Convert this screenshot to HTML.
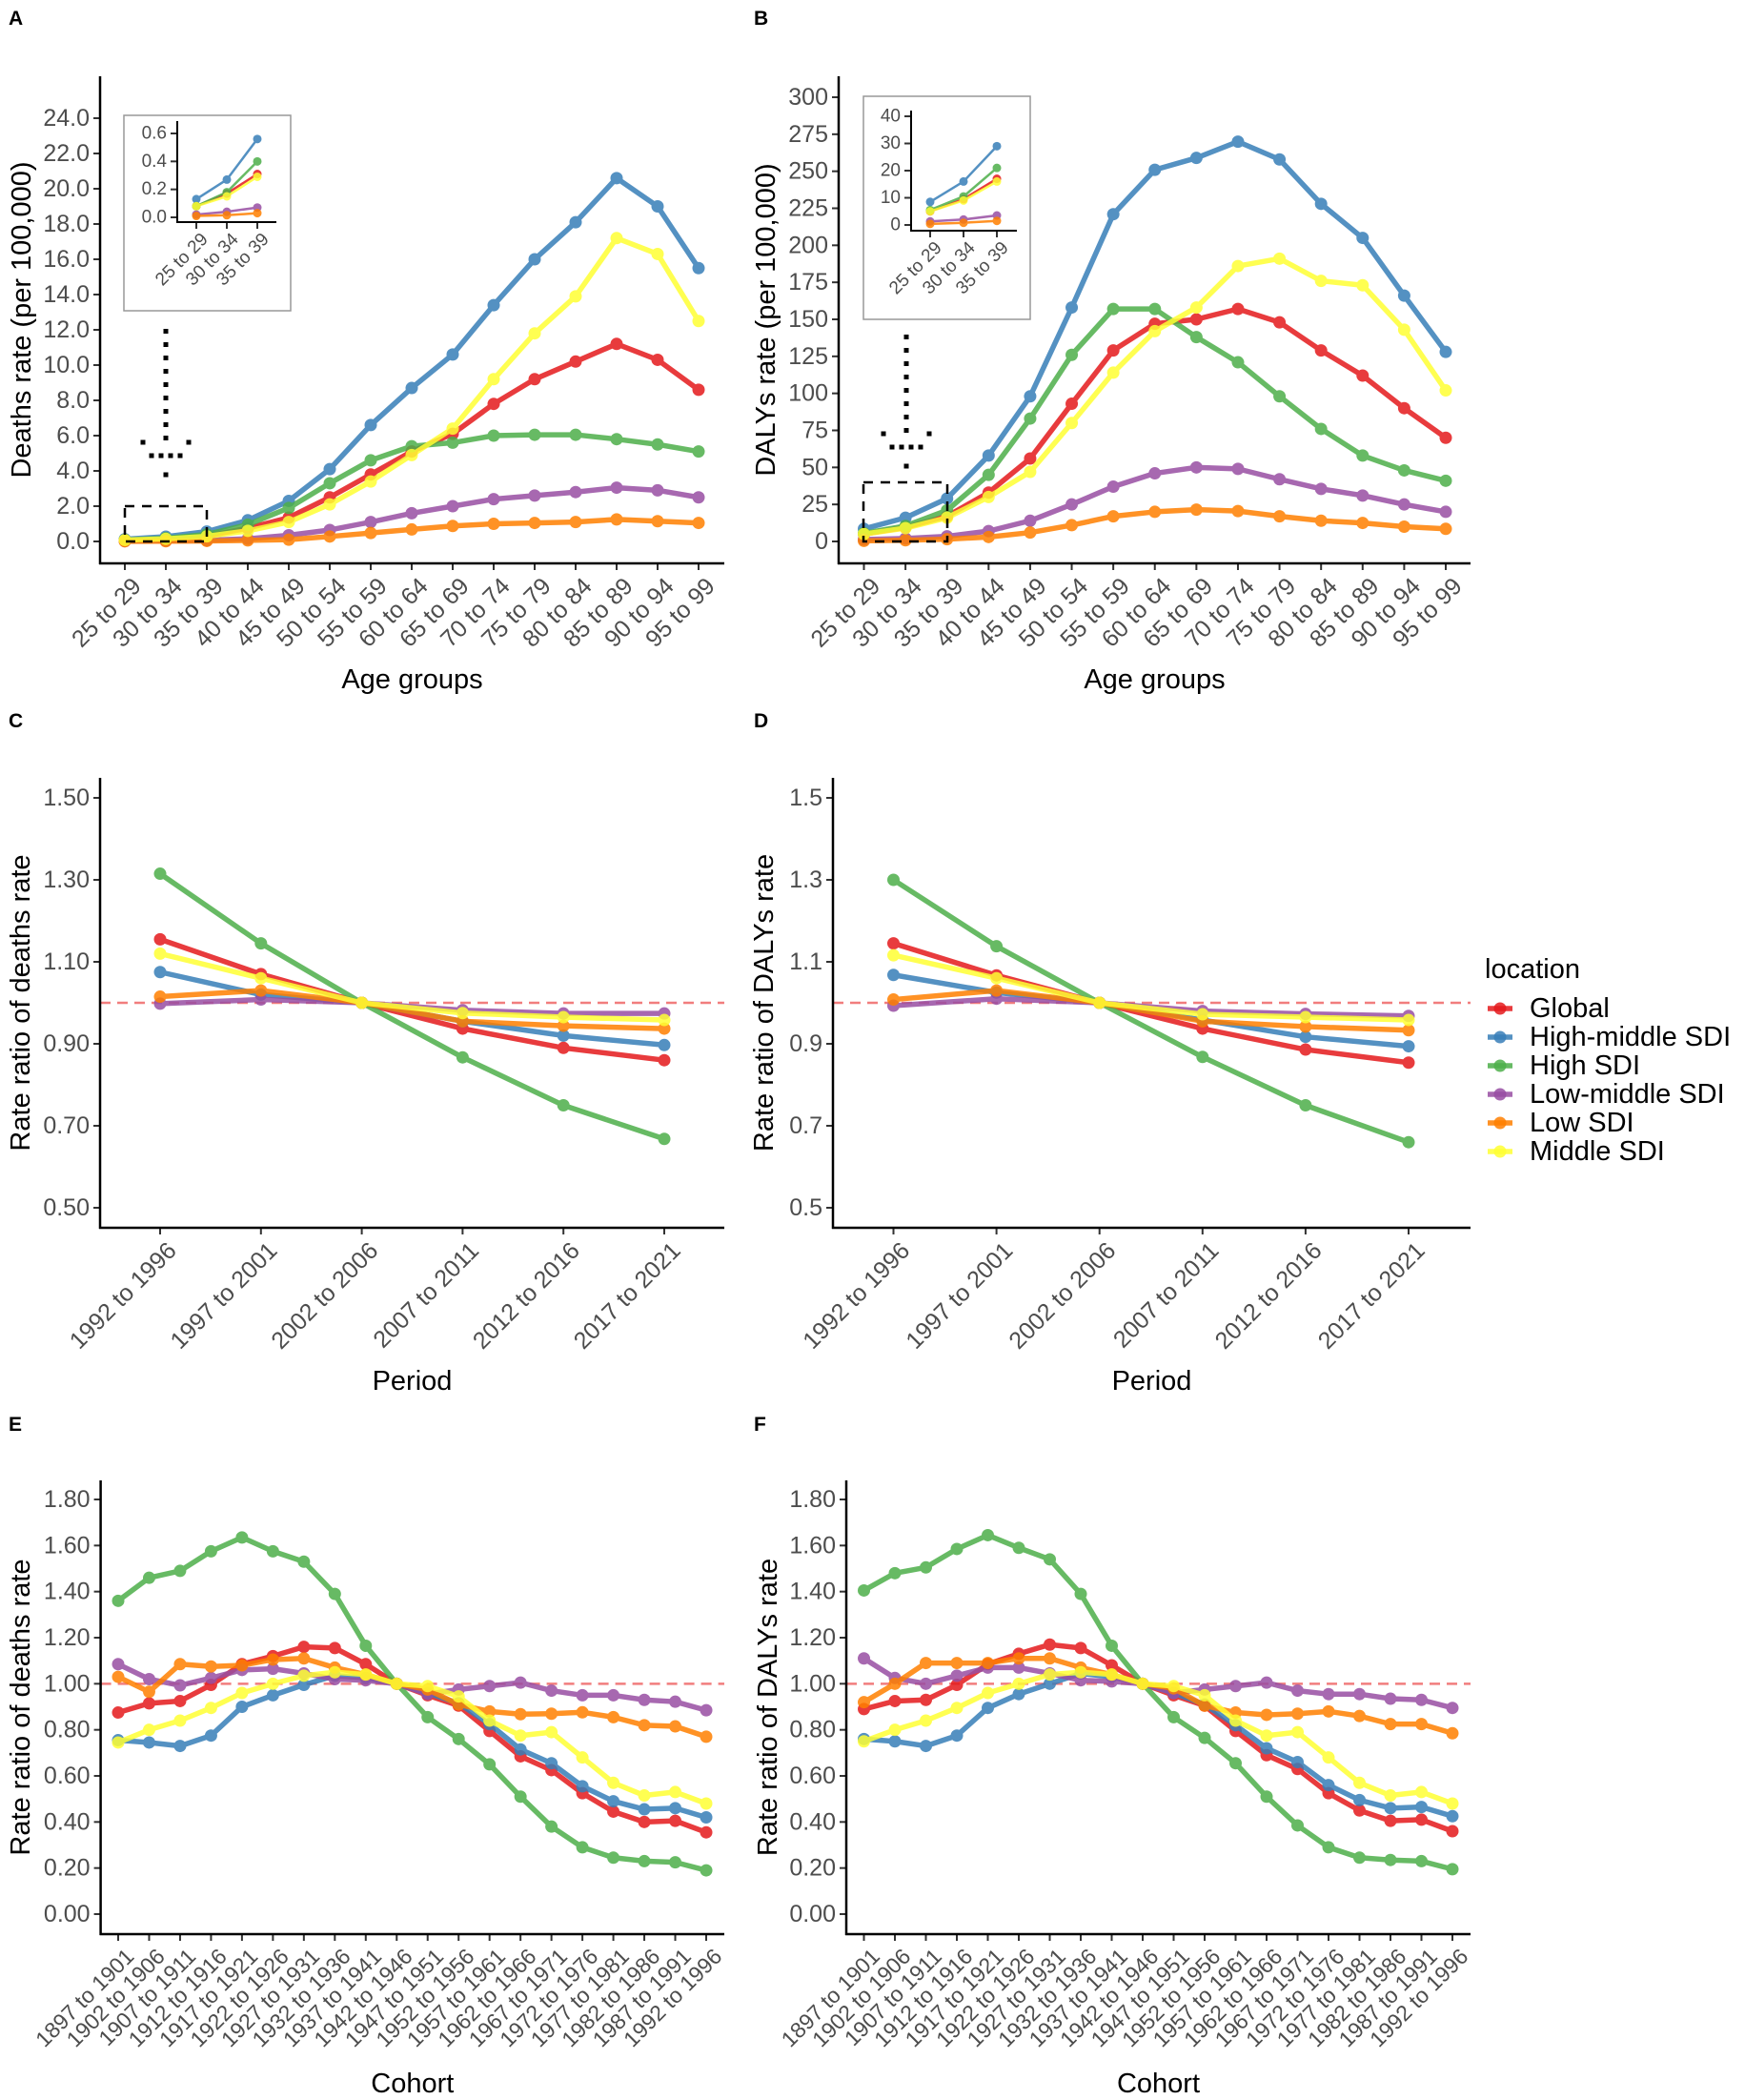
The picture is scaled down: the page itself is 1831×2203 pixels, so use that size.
<!DOCTYPE html>
<html><head><meta charset="utf-8">
<style>
html,body{margin:0;padding:0;background:#fff;}
svg{display:block;font-family:"Liberation Sans",Arial,sans-serif;}
</style></head>
<body>
<svg id="fig" width="1831" height="2203" viewBox="0 0 1831 2203" xmlns="http://www.w3.org/2000/svg">
<rect width="1831" height="2203" fill="#fff"/>
</svg>
<script>
// ---------- data ----------
const ageGroups = ["25 to 29","30 to 34","35 to 39","40 to 44","45 to 49","50 to 54","55 to 59","60 to 64","65 to 69","70 to 74","75 to 79","80 to 84","85 to 89","90 to 94","95 to 99"];
const periods = ["1992 to 1996","1997 to 2001","2002 to 2006","2007 to 2011","2012 to 2016","2017 to 2021"];
const cohorts = ["1897 to 1901","1902 to 1906","1907 to 1911","1912 to 1916","1917 to 1921","1922 to 1926","1927 to 1931","1932 to 1936","1937 to 1941","1942 to 1946","1947 to 1951","1952 to 1956","1957 to 1961","1962 to 1966","1967 to 1971","1972 to 1976","1977 to 1981","1982 to 1986","1987 to 1991","1992 to 1996"];
const locations = ["Global","High-middle SDI","High SDI","Low-middle SDI","Low SDI","Middle SDI"];

// Panel A: deaths rate by age
const A_global = [0.08,0.17,0.31,0.75,1.35,2.5,3.8,5.1,6.1,7.8,9.2,10.2,11.2,10.3,8.6];
const A_highMiddle = [0.13,0.27,0.56,1.2,2.3,4.1,6.6,8.7,10.6,13.4,16.0,18.1,20.6,19.0,15.5];
const A_high = [0.08,0.18,0.40,0.95,1.9,3.3,4.6,5.4,5.6,6.0,6.05,6.05,5.8,5.5,5.1];
const A_lowMiddle = [0.02,0.04,0.07,0.15,0.35,0.65,1.1,1.6,2.0,2.4,2.6,2.8,3.05,2.9,2.5];
const A_low = [0.01,0.015,0.03,0.06,0.1,0.28,0.48,0.68,0.88,1.0,1.05,1.1,1.25,1.15,1.05];
const A_middle = [0.08,0.15,0.29,0.6,1.1,2.1,3.4,4.9,6.4,9.2,11.8,13.9,17.2,16.3,12.5];
const A_ticks = [0,2,4,6,8,10,12,14,16,18,20,22,24];
const A_insetTicks = [0,0.2,0.4,0.6];

// Panel B: DALYs rate by age
const B_global = [5,9.5,17,33,56,93,129,147,150,157,148,129,112,90,70];
const B_highMiddle = [8.5,16,29,58,98,158,221,251,259,270,258,228,205,166,128];
const B_high = [5.5,10.5,21,45,83,126,157,157,138,121,98,76,58,48,41];
const B_lowMiddle = [1.3,2,3.5,7,14,25,37,46,50,49,42,35.5,31,25,20];
const B_low = [0.4,0.8,1.5,3,6,11,17,20,21.5,20.5,17,14,12.5,10,8.5];
const B_middle = [5,9,16,30,47,80,114,142,158,186,191,176,173,143,102];
const B_ticks = [0,25,50,75,100,125,150,175,200,225,250,275,300];
const B_insetTicks = [0,10,20,30,40];

// Panel C: period deaths
const C_global = [1.155,1.07,1.0,0.937,0.89,0.86];
const C_highMiddle = [1.075,1.02,1.0,0.955,0.92,0.897];
const C_high = [1.315,1.145,1.0,0.867,0.75,0.668];
const C_lowMiddle = [0.998,1.008,1.0,0.982,0.974,0.974];
const C_low = [1.015,1.03,1.0,0.955,0.944,0.937];
const C_middle = [1.12,1.06,1.0,0.975,0.965,0.958];
const C_ticks = [0.5,0.7,0.9,1.1,1.3,1.5];

// Panel D: period DALYs
const D_global = [1.145,1.067,1.0,0.937,0.886,0.854];
const D_highMiddle = [1.068,1.025,1.0,0.958,0.917,0.894];
const D_high = [1.30,1.138,1.0,0.868,0.75,0.66];
const D_lowMiddle = [0.993,1.01,1.0,0.98,0.973,0.968];
const D_low = [1.008,1.03,1.0,0.955,0.942,0.933];
const D_middle = [1.116,1.06,1.0,0.972,0.965,0.958];
const D_ticks = [0.5,0.7,0.9,1.1,1.3,1.5];

// Panel E: cohort deaths
const E_global = [0.875,0.915,0.925,0.995,1.085,1.12,1.16,1.155,1.085,1.0,0.95,0.905,0.795,0.685,0.625,0.525,0.445,0.40,0.405,0.355];
const E_highMiddle = [0.755,0.745,0.73,0.775,0.9,0.95,0.995,1.035,1.025,1.0,0.96,0.915,0.825,0.715,0.655,0.555,0.49,0.455,0.46,0.42];
const E_high = [1.36,1.46,1.49,1.575,1.635,1.575,1.53,1.39,1.165,1.0,0.855,0.76,0.65,0.51,0.38,0.29,0.245,0.23,0.225,0.19];
const E_lowMiddle = [1.085,1.02,0.993,1.025,1.06,1.065,1.045,1.02,1.015,1.0,0.955,0.975,0.99,1.005,0.97,0.95,0.95,0.93,0.922,0.885];
const E_low = [1.03,0.965,1.085,1.075,1.08,1.105,1.11,1.07,1.04,1.0,0.975,0.91,0.88,0.868,0.87,0.876,0.855,0.82,0.815,0.77];
const E_middle = [0.745,0.8,0.84,0.895,0.96,1.0,1.035,1.05,1.04,1.0,0.99,0.945,0.84,0.775,0.79,0.68,0.57,0.515,0.53,0.48];
const E_ticks = [0,0.2,0.4,0.6,0.8,1.0,1.2,1.4,1.6,1.8];

// Panel F: cohort DALYs
const F_global = [0.89,0.925,0.93,0.995,1.085,1.13,1.17,1.155,1.08,1.0,0.95,0.905,0.795,0.69,0.63,0.525,0.45,0.405,0.41,0.36];
const F_highMiddle = [0.76,0.75,0.73,0.775,0.895,0.955,1.0,1.045,1.03,1.0,0.96,0.91,0.82,0.72,0.66,0.56,0.495,0.46,0.465,0.425];
const F_high = [1.405,1.48,1.505,1.585,1.645,1.59,1.54,1.39,1.165,1.0,0.855,0.765,0.655,0.51,0.385,0.29,0.245,0.235,0.23,0.195];
const F_lowMiddle = [1.11,1.025,1.0,1.035,1.07,1.07,1.045,1.015,1.01,1.0,0.96,0.975,0.99,1.005,0.97,0.955,0.955,0.935,0.93,0.895];
const F_low = [0.92,1.0,1.09,1.09,1.09,1.11,1.11,1.07,1.04,1.0,0.98,0.905,0.875,0.865,0.87,0.88,0.86,0.825,0.825,0.785];
const F_middle = [0.75,0.8,0.84,0.895,0.96,1.0,1.04,1.05,1.04,1.0,0.99,0.95,0.84,0.775,0.79,0.68,0.57,0.515,0.53,0.48];
const F_ticks = [0,0.2,0.4,0.6,0.8,1.0,1.2,1.4,1.6,1.8];

const colors = ["#E41A1C","#377EB8","#4DAF4A","#984EA3","#FF7F00","#FFFF33"];

// ---------- helpers ----------
const NS = "http://www.w3.org/2000/svg";
const svg = document.getElementById("fig");
function mk(tag, attrs, parent) {
  const el = document.createElementNS(NS, tag);
  for (const k in attrs) el.setAttribute(k, attrs[k]);
  (parent || svg).appendChild(el);
  return el;
}
function linScale(d0, d1, r0, r1) { return v => r0 + (v - d0) * (r1 - r0) / (d1 - d0); }
function bandScale(n, first, last) { return i => first + i * (last - first) / (n - 1); }
function slug(s){return s.toLowerCase().replace(/[^a-z0-9]+/g,'-');}

function drawPanel(cfg) {
  const g = mk("g", {});
  
  
  const y = linScale(cfg.yd0, cfg.yd1, cfg.yr0, cfg.yr1);
  const x = bandScale(cfg.cats.length, cfg.xFirst, cfg.xLast);
  const fs = cfg.tickFs || 25;
  cfg.yTicks.forEach(v => {
    const ty = y(v);
    const tk = mk("line", {x1: cfg.axisX - 7, x2: cfg.axisX, y1: ty, y2: ty, stroke: "#333", "stroke-width": 2}, g);
    
    
    const t = mk("text", {x: cfg.axisX - 11, y: ty, "text-anchor": "end", "dominant-baseline": "central", "font-size": fs, fill: "#4D4D4D"}, g);
    t.textContent = v.toFixed(cfg.yDec);
    
    
  });
  cfg.cats.forEach((c, i) => {
    const tx = x(i);
    const tk = mk("line", {x1: tx, x2: tx, y1: cfg.axisY, y2: cfg.axisY + 7, stroke: "#333", "stroke-width": 2}, g);
    
    
    const ax = tx + (cfg.lblDx || 6), ay = cfg.axisY + (cfg.lblDy || 13);
    const t = mk("text", {x: 0, y: 0, transform: `translate(${ax},${ay}) rotate(-45)`, "text-anchor": "end", "dominant-baseline": "hanging", "font-size": cfg.xFs || fs, fill: "#4D4D4D"}, g);
    t.textContent = c;
    
    
  });
  if (cfg.refLine) {
    const r = mk("line", {x1: cfg.axisX, x2: cfg.axisEnd, y1: y(1), y2: y(1), stroke: "#F07070", "stroke-width": 2.5, "stroke-dasharray": "11 7", opacity: 0.9}, g);
    
    
  }
  cfg.series.forEach((vals, si) => {
    const sg = mk("g", {opacity: 0.85}, g);
    
    
    const pts = vals.map((v, i) => x(i) + "," + y(v)).join(" ");
    const pl = mk("polyline", {points: pts, fill: "none", stroke: colors[si], "stroke-width": cfg.lw || 5.5, "stroke-linejoin": "round"}, sg);
    
    
    vals.forEach((v, i) => {
      const c = mk("circle", {cx: x(i), cy: y(v), r: cfg.pr || 6.5, fill: colors[si]}, sg);
      
      
    });
  });
  const ya = mk("line", {x1: cfg.axisX, x2: cfg.axisX, y1: cfg.axisTop, y2: cfg.axisY + 1, stroke: "#000", "stroke-width": cfg.axW || 2.5}, g);
  
  
  const xa = mk("line", {x1: cfg.axisX - 1, x2: cfg.axisEnd, y1: cfg.axisY, y2: cfg.axisY, stroke: "#000", "stroke-width": cfg.axW || 2.5}, g);
  
  
  if (cfg.yTitle) {
    const t = mk("text", {x: 0, y: 0, transform: `translate(${cfg.yTitleX},${(cfg.axisTop + cfg.axisY) / 2}) rotate(-90)`, "text-anchor": "middle", "dominant-baseline": "central", "font-size": 29, fill: "#000", "xml:space": "preserve"}, g);
    t.textContent = cfg.yTitle;
    
    
  }
  if (cfg.xTitle) {
    const t = mk("text", {x: (cfg.axisX + cfg.axisEnd) / 2, y: cfg.xTitleY, "text-anchor": "middle", "font-size": 29, fill: "#000"}, g);
    t.textContent = cfg.xTitle;
    
    
  }
  if (cfg.label) {
    const t = mk("text", {x: cfg.labelX, y: cfg.labelY, "font-size": 21, "font-weight": "bold", fill: "#000"}, g);
    t.textContent = cfg.label;
    
    
  }
  return g;
}

function drawInset(box, cfg, name) {
  const r = mk("rect", {x: box[0], y: box[1], width: box[2] - box[0], height: box[3] - box[1], fill: "#fff", stroke: "#999", "stroke-width": 1.5});
  
  
  drawPanel(cfg);
}

function dottedArrow(x, y0, y1, name) {
  const g = mk("g", {});
  
  
  for (let yy = y0; yy <= y1 - 40; yy += 14) mk("rect", {x: x - 2.5, y: yy, width: 5, height: 5, fill: "#000"}, g);
  const tip = y1;
  [[-24, -36], [24, -36], [-15, -22], [15, -22], [-5, -22], [5, -22], [0, -2]].forEach(p => {
    mk("rect", {x: x + p[0] - 2.5, y: tip + p[1] - 2.5, width: 5, height: 5, fill: "#000"}, g);
  });
}
function dashedBox(x0, y0, x1, y1, name) {
  const r = mk("rect", {x: x0, y: y0, width: x1 - x0, height: y1 - y0, fill: "none", stroke: "#000", "stroke-width": 2.5, "stroke-dasharray": "10 8"});
  
  
}

// ---------- Panel A ----------
drawPanel({name: "panel-a-deaths-by-age", cats: ageGroups, series: [A_global, A_highMiddle, A_high, A_lowMiddle, A_low, A_middle],
  yd0: 0, yd1: 24, yr0: 568, yr1: 124, yTicks: A_ticks, yDec: 1,
  axisX: 105, axisY: 591, axisTop: 80, axisEnd: 760, xFirst: 131, xLast: 733,
  yTitle: "Deaths rate   (per 100,000)", yTitleX: 23, xTitle: "Age groups", xTitleY: 722,
  label: "A", labelX: 9, labelY: 26});
dashedBox(131, 531, 217, 568, "zoom-region-box-a");
dottedArrow(174, 345, 500, "zoom-arrow-a");
drawInset([130, 121, 305, 326], {name: "inset-a", cats: ageGroups.slice(0, 3),
  series: [A_global, A_highMiddle, A_high, A_lowMiddle, A_low, A_middle].map(s => s.slice(0, 3)),
  yd0: 0, yd1: 0.6, yr0: 228, yr1: 140, yTicks: A_insetTicks, yDec: 1, tickFs: 19,
  axisX: 186, axisY: 233, axisTop: 127, axisEnd: 290, xFirst: 206, xLast: 270, lw: 2.5, pr: 4.5, axW: 2,
  lblDx: 4, lblDy: 10}, "inset-a");

// ---------- Panel B ----------
drawPanel({name: "panel-b-dalys-by-age", cats: ageGroups, series: [B_global, B_highMiddle, B_high, B_lowMiddle, B_low, B_middle],
  yd0: 0, yd1: 300, yr0: 568, yr1: 102, yTicks: B_ticks, yDec: 0,
  axisX: 880, axisY: 591, axisTop: 80, axisEnd: 1543, xFirst: 906.5, xLast: 1517,
  yTitle: "DALYs rate   (per 100,000)", yTitleX: 804, xTitle: "Age groups", xTitleY: 722,
  label: "B", labelX: 791, labelY: 26});
dashedBox(906, 506, 994, 568, "zoom-region-box-b");
dottedArrow(951, 351, 491, "zoom-arrow-b");
drawInset([906, 101, 1081, 335], {name: "inset-b", cats: ageGroups.slice(0, 3),
  series: [B_global, B_highMiddle, B_high, B_lowMiddle, B_low, B_middle].map(s => s.slice(0, 3)),
  yd0: 0, yd1: 40, yr0: 236, yr1: 122, yTicks: B_insetTicks, yDec: 0, tickFs: 19,
  axisX: 956, axisY: 242, axisTop: 116, axisEnd: 1067, xFirst: 976, xLast: 1046, lw: 2.5, pr: 4.5, axW: 2,
  lblDx: 4, lblDy: 10}, "inset-b");

// ---------- Panel C ----------
drawPanel({name: "panel-c-period-deaths", cats: periods, series: [C_global, C_highMiddle, C_high, C_lowMiddle, C_low, C_middle],
  yd0: 0.5, yd1: 1.5, yr0: 1267, yr1: 837, yTicks: C_ticks, yDec: 2, refLine: true,
  axisX: 105, axisY: 1288, axisTop: 816, axisEnd: 760, xFirst: 168, xLast: 697,
  yTitle: "Rate ratio of deaths rate", yTitleX: 22, xTitle: "Period", xTitleY: 1458,
  label: "C", labelX: 9, labelY: 763});

// ---------- Panel D ----------
drawPanel({name: "panel-d-period-dalys", cats: periods, series: [D_global, D_highMiddle, D_high, D_lowMiddle, D_low, D_middle],
  yd0: 0.5, yd1: 1.5, yr0: 1267, yr1: 837, yTicks: D_ticks, yDec: 1, refLine: true,
  axisX: 874, axisY: 1288, axisTop: 816, axisEnd: 1543, xFirst: 937.5, xLast: 1478,
  yTitle: "Rate ratio of DALYs rate", yTitleX: 802, xTitle: "Period", xTitleY: 1458,
  label: "D", labelX: 791, labelY: 763});

// ---------- Panel E ----------
drawPanel({name: "panel-e-cohort-deaths", cats: cohorts, series: [E_global, E_highMiddle, E_high, E_lowMiddle, E_low, E_middle],
  yd0: 0, yd1: 1.8, yr0: 2008, yr1: 1573, yTicks: E_ticks, yDec: 2, refLine: true, xFs: 23,
  axisX: 105.6, axisY: 2029, axisTop: 1553, axisEnd: 760, xFirst: 124, xLast: 741,
  yTitle: "Rate ratio of deaths rate", yTitleX: 22, xTitle: "Cohort", xTitleY: 2195,
  label: "E", labelX: 9, labelY: 1501});

// ---------- Panel F ----------
drawPanel({name: "panel-f-cohort-dalys", cats: cohorts, series: [F_global, F_highMiddle, F_high, F_lowMiddle, F_low, F_middle],
  yd0: 0, yd1: 1.8, yr0: 2008, yr1: 1573, yTicks: F_ticks, yDec: 2, refLine: true, xFs: 23,
  axisX: 888, axisY: 2029, axisTop: 1553, axisEnd: 1543, xFirst: 906.5, xLast: 1524,
  yTitle: "Rate ratio of DALYs rate", yTitleX: 806, xTitle: "Cohort", xTitleY: 2195,
  label: "F", labelX: 791, labelY: 1501});

// ---------- Legend ----------
const lg = mk("g", {});


const lt = mk("text", {x: 1558, y: 1026, "font-size": 29, fill: "#000"}, lg);
lt.textContent = "location";


locations.forEach((name, i) => {
  const cy = 1058 + i * 30;
  const eg = mk("g", {}, lg);
  
  
  mk("line", {x1: 1561, x2: 1587, y1: cy, y2: cy, stroke: colors[i], "stroke-width": 5.5, opacity: 0.85}, eg);
  mk("circle", {cx: 1574, cy: cy, r: 6.5, fill: colors[i], opacity: 0.85}, eg);
  const t = mk("text", {x: 1605, y: cy, "dominant-baseline": "central", "font-size": 29, fill: "#000"}, eg);
  t.textContent = name;
});
</script>
</body></html>
